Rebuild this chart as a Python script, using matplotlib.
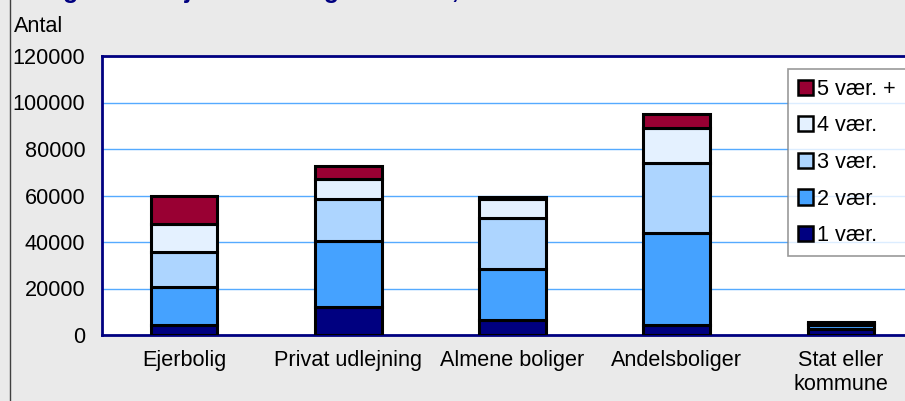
import numpy as np
import matplotlib.pyplot as plt
from matplotlib.lines import Line2D

# data
categories = ['Ejerbolig', 'Privat udlejning', 'Almene boliger', 'Andelsboliger', 'Stat eller\nkommune']
series = ['1 vær.', '2 vær.', '3 vær.', '4 vær.', '5 vær. +']
v1 = [4300, 12000, 6600, 4300, 2500]
v2 = [16500, 28600, 21700, 39500, 1800]
v3 = [14900, 18000, 22000, 30000, 700]
v4 = [12000, 8300, 8000, 15100, 300]
v5 = [12300, 5700, 1200, 6300, 200]
colors = ['#000080', '#45A2FF', '#ADD5FF', '#E4F1FF', '#990033']

plt.rcParams['font.family'] = ['Liberation Sans', 'DejaVu Sans']
fs = 15.6

fig = plt.figure(figsize=(9.05, 4.01), dpi=100)
fig.patch.set_facecolor('#EAEAEA')
ax = fig.add_axes([102 / 905, 66 / 401, 821 / 905, 279 / 401])
ax.set_facecolor('white')

x = np.arange(len(categories))
bottom = np.zeros(len(categories))
handles = []
for name, vals, c in zip(series, [v1, v2, v3, v4, v5], colors):
    b = ax.bar(x, vals, width=0.406, bottom=bottom, color=c, edgecolor='black',
               linewidth=2.2, label=name, zorder=3)
    handles.append(b)
    bottom += np.array(vals)

ax.set_xlim(-0.5, 4.5)
ax.set_ylim(0, 120000)
ax.set_yticks(np.arange(0, 120001, 20000))
ax.set_xticks(x)
ax.set_xticklabels(categories)
ax.tick_params(axis='both', length=0, labelsize=fs)
ax.tick_params(axis='y', pad=12)
ax.tick_params(axis='x', pad=11)
ax.yaxis.grid(True, color='#55AAFF', linewidth=1, zorder=0)
ax.set_axisbelow(True)
for s in ax.spines.values():
    s.set_color('#000080')
    s.set_linewidth(2)

leg = fig.legend(handles[::-1], series[::-1], loc='upper left',
                 bbox_to_anchor=(788 / 905, 1 - 69 / 401), fontsize=fs,
                 frameon=True, fancybox=False, edgecolor='#808080',
                 handlelength=0.7, handleheight=0.7, handletextpad=0.2,
                 labelspacing=0.72, borderpad=0.45, borderaxespad=0)
leg.get_frame().set_linewidth(1.2)
for h in leg.legend_handles:
    h.set_linewidth(1.8)

fig.text(14 / 905, 1 - 26 / 401, 'Antal', fontsize=fs, va='center', ha='left')
fig.text(16 / 905, 1 + 2 / 401, 'Boliger efter ejerforhold og størrelse, 2010',
         fontsize=18, fontweight='bold', color='#000080', va='baseline', ha='left')
fig.add_artist(Line2D([9.5 / 905, 9.5 / 905], [0, 1], color='#404040', linewidth=1))

fig.savefig('out.png', dpi=100, facecolor=fig.get_facecolor())
